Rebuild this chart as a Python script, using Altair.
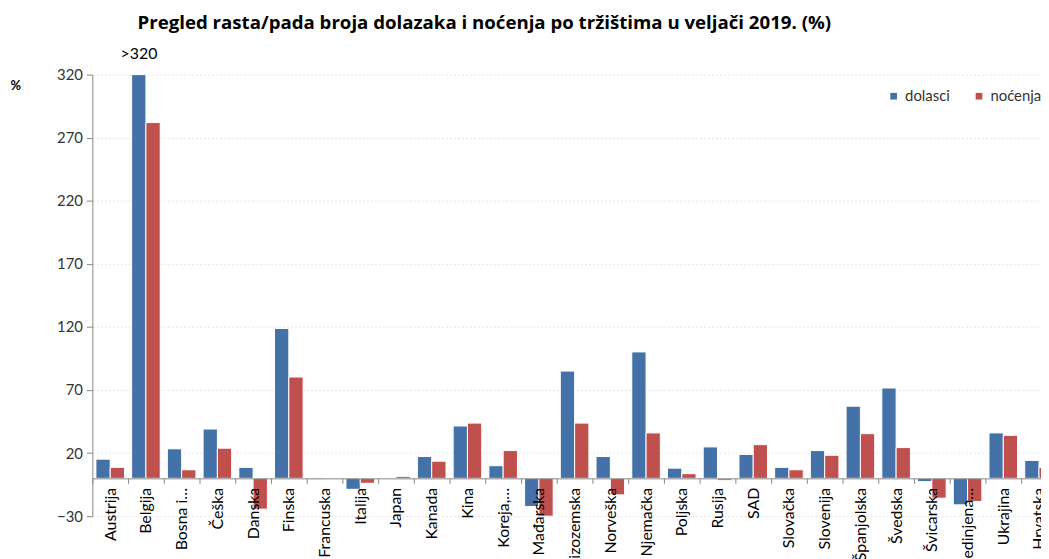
import altair as alt
import pandas as pd

categories = ["Austrija", "Belgija", "Bosna i…", "Češka", "Danska", "Finska", "Francuska",
              "Italija", "Japan", "Kanada", "Kina", "Koreja,…", "Mađarska", "Nizozemska",
              "Norveška", "Njemačka", "Poljska", "Rusija", "SAD", "Slovačka", "Slovenija",
              "Španjolska", "Švedska", "Švicarska", "Ujedinjena…", "Ukrajina", "Hrvatska"]
dolasci = [15.2, 320, 23.4, 39.1, 8.7, 118.8, -1.0, -8.7, 0.0, 17.3, 41.5, 10.0, -22.3, 85.0,
           17.3, 100.2, 8.1, 24.9, 18.9, 8.7, 22.0, 57.2, 71.6, -2.6, -21.0, 36.0, 14.2]
nocenja = [8.7, 282.0, 6.8, 23.9, -24.4, 80.3, -0.5, -3.9, 1.6, 13.6, 43.8, 22.0, -30.0, 43.8,
           -13.1, 36.0, 3.7, -1.5, 26.7, 6.8, 18.3, 35.4, 24.4, -15.7, -18.3, 34.1, 8.7]
series = ["dolasci", "noćenja"]
colors = ["#4472A8", "#C0504D"]
y_ticks = [-30, 20, 70, 120, 170, 220, 270, 320]
title_text = "Pregled rasta/pada broja dolazaka i noćenja po tržištima u veljači 2019. (%)"
cap_label = ">320"

rows = []
for c, d, n in zip(categories, dolasci, nocenja):
    rows.append({"kategorija": c, "serija": series[0], "vrijednost": d})
    rows.append({"kategorija": c, "serija": series[1], "vrijednost": n})
df = pd.DataFrame(rows)

FONT = "Lato"

x_enc = alt.X("kategorija:N", sort=categories,
              scale=alt.Scale(range=[0, 972], paddingInner=0, paddingOuter=0),
              axis=alt.Axis(title=None, labelAngle=-90, tickBand="extent", offset=-38.14,
                            labelFontSize=16, labelColor="#000000", tickSize=5,
                            labelPadding=4, domainColor="#868686", tickColor="#868686",
                            labelFont=FONT, zindex=1))
y_enc = alt.Y("vrijednost:Q",
              scale=alt.Scale(domain=[-30, 320], nice=False),
              axis=alt.Axis(values=y_ticks, title="%", titleAngle=0, titleX=-83, titleY=18,
                            titleAlign="left", titleFontWeight="bold", titleFontSize=13,
                            titleFont=FONT, labelFont=FONT, labelFontSize=15,
                            labelColor="#333333", tickSize=6, labelPadding=4,
                            domainColor="#868686", tickColor="#868686",
                            gridColor="#E4E4E4", gridDash=[2, 2]))

bars = alt.Chart(df).mark_bar(stroke="#FFFFFF", strokeWidth=1).encode(
    x=x_enc,
    xOffset=alt.XOffset("serija:N", sort=series,
                        scale=alt.Scale(paddingOuter=0.25, paddingInner=0.0)),
    y=y_enc,
    color=alt.Color("serija:N", sort=series,
                    scale=alt.Scale(domain=series, range=colors),
                    legend=alt.Legend(title=None, orient="none", legendX=800, legendY=14,
                                      direction="horizontal", symbolType="square",
                                      symbolSize=45, symbolStrokeWidth=0,
                                      labelFontSize=15, labelFont=FONT, labelColor="#333333",
                                      columnPadding=21)),
)

cap_df = pd.DataFrame({"kategorija": [categories[1]], "vrijednost": [320], "t": [cap_label]})
cap = alt.Chart(cap_df).mark_text(dy=-21, dx=-7, fontSize=16, font=FONT, color="#000000").encode(
    x=alt.X("kategorija:N", sort=categories),
    y=alt.Y("vrijednost:Q"),
    text="t:N",
)

title_df = pd.DataFrame({"t": [title_text]})
title = alt.Chart(title_df).mark_text(fontSize=18.8, fontWeight="bold", font="Open Sans",
                                      color="#000000", baseline="middle").encode(
    x=alt.value(395), y=alt.value(-52), text="t:N")

chart = alt.layer(bars, cap, title).properties(
    width=956, height=445,
    padding={"left": 85, "top": 65, "right": 0, "bottom": 41},
    autosize=alt.AutoSizeParams(type="none"),
).configure_view(stroke=None)

chart.save("out.html", embed_options={"renderer": "svg", "actions": False})
